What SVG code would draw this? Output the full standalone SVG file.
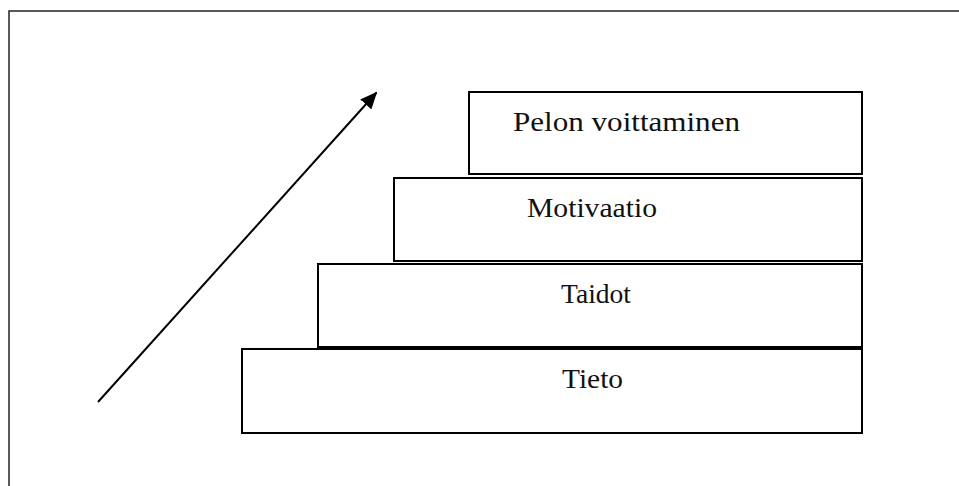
<svg xmlns="http://www.w3.org/2000/svg" width="959" height="486" viewBox="0 0 959 486">
<style>
.box{fill:#fff;stroke:#000;stroke-width:2}
.lbl{font-family:"Liberation Serif","Times New Roman",serif;font-size:27px;fill:#111}
.conn{stroke:#000;stroke-width:2;fill:none}
</style>
<defs>
<marker id="ah2" viewBox="0 0 17 15" refX="16" refY="7.5" markerWidth="17" markerHeight="15" markerUnits="userSpaceOnUse" orient="auto">
<path d="M0,0 L17,7.5 L0,15 z" fill="#000"/>
</marker>
</defs>
<rect x="0" y="0" width="959" height="486" fill="#fff"/>
<rect x="9" y="11" width="1000" height="520" fill="none" stroke="#222" stroke-width="1.5"/>
<g id="node-tieto"><rect class="box" x="242" y="349" width="620" height="84"/><text class="lbl" x="562" y="388" textLength="61" lengthAdjust="spacingAndGlyphs">Tieto</text></g>
<g id="node-taidot"><rect class="box" x="318" y="264" width="544" height="83"/><text class="lbl" x="561" y="303" textLength="70" lengthAdjust="spacingAndGlyphs">Taidot</text></g>
<g id="node-motivaatio"><rect class="box" x="394" y="178" width="468" height="83"/><text class="lbl" x="527" y="217" textLength="130" lengthAdjust="spacingAndGlyphs">Motivaatio</text></g>
<g id="node-pelon"><rect class="box" x="469" y="92" width="393" height="82"/><text class="lbl" x="513" y="130.5" textLength="227" lengthAdjust="spacingAndGlyphs">Pelon voittaminen</text></g>
<g id="connectors"><line class="conn" x1="98" y1="402" x2="376.5" y2="92.5" marker-end="url(#ah2)"/></g>
</svg>
